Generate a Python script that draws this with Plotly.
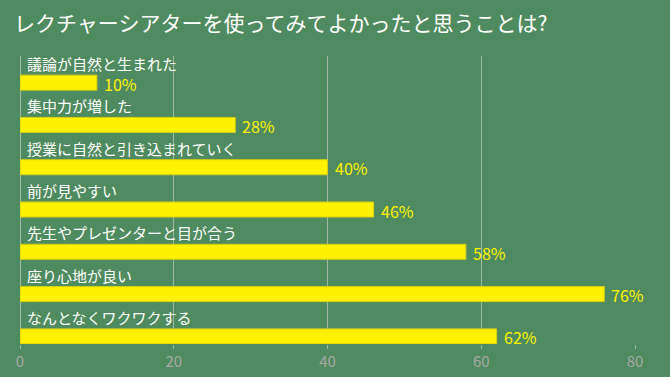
import plotly.graph_objects as go

title = "レクチャーシアターを使ってみてよかったと思うことは?"
categories = [
    "議論が自然と生まれた",
    "集中力が増した",
    "授業に自然と引き込まれていく",
    "前が見やすい",
    "先生やプレゼンターと目が合う",
    "座り心地が良い",
    "なんとなくワクワクする",
]
values = [10, 28, 40, 46, 58, 76, 62]
x_ticks = [0, 20, 40, 60, 80]

BG = "#4f8b60"
YEL = "#fff200"
FONT = "Noto Sans CJK JP"

fig = go.Figure()
fig.add_trace(go.Bar(
    x=values, y=categories, orientation="h",
    width=0.355,
    marker=dict(color=YEL, line=dict(color="#d8cf10", width=1)),
    hoverinfo="skip",
))

annotations = []
for c, v in zip(categories, values):
    annotations.append(dict(
        x=0, y=c, xref="x", yref="y", text=c, showarrow=False,
        xanchor="left", yanchor="middle", xshift=5, yshift=19,
        font=dict(family=FONT, size=15, color="white"),
    ))
    annotations.append(dict(
        x=v, y=c, xref="x", yref="y", text=f"{v}%", showarrow=False,
        xanchor="left", yanchor="middle", xshift=5, yshift=-1,
        font=dict(family=FONT, size=16, color=YEL),
    ))

fig.update_layout(
    width=670, height=377,
    paper_bgcolor=BG, plot_bgcolor=BG,
    margin=dict(l=20, r=35, t=56, b=33, autoexpand=False),
    showlegend=False,
    title=dict(text=title, x=0.021, xanchor="left", y=0.936, yanchor="middle",
               font=dict(family=FONT, size=21, color="white")),
    annotations=annotations,
    font=dict(family=FONT),
)
fig.update_xaxes(
    range=[0, 80], tickvals=x_ticks, ticktext=[str(t) for t in x_ticks],
    showgrid=True, gridcolor="#a2b8a7", gridwidth=1,
    zeroline=True, zerolinecolor="#a2b8a7", zerolinewidth=1,
    ticks="outside", ticklen=4, tickcolor="#a2b8a7",
    tickfont=dict(family=FONT, size=15, color="#a8a8a8"),
    showline=False, automargin=False,
)
fig.update_yaxes(
    type="category", categoryorder="array", categoryarray=categories,
    range=[6.18, -0.63], showticklabels=False, showgrid=False,
    zeroline=False, showline=False, ticks="", automargin=False,
)

fig.write_html("out.html", config={"displayModeBar": False},
               post_script="document.body.style.margin='0';document.body.style.overflow='hidden';")
